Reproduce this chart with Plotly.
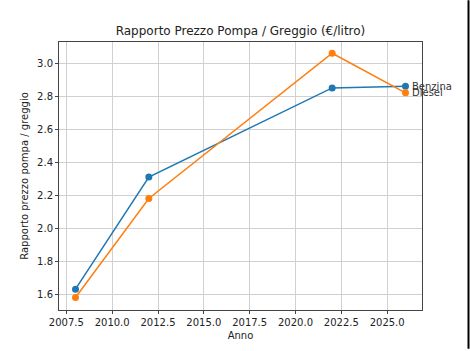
import plotly.graph_objects as go

years = [2008, 2012, 2022, 2026]
benzina = [1.63, 2.31, 2.85, 2.86]
diesel = [1.58, 2.18, 3.06, 2.82]
series_names = ["Benzina", "Diesel"]
colors = ["#1f77b4", "#ff7f0e"]

W, H = 470, 351
L, R, T, B = 59, 48, 42, 39

fig = go.Figure()
for name, vals, c in zip(series_names, [benzina, diesel], colors):
    fig.add_trace(go.Scatter(x=years, y=vals, mode="lines+markers", name=name,
                             line=dict(color=c, width=1.5), marker=dict(color=c, size=7),
                             showlegend=False))
    fig.add_annotation(x=years[-1], y=vals[-1], text=name, showarrow=False,
                       xanchor="left", yanchor="middle", xshift=4,
                       font=dict(size=10, color="#333333"))

fig.update_layout(
    width=W, height=H, margin=dict(l=L, r=R, t=T, b=B),
    paper_bgcolor="white", plot_bgcolor="white",
    font=dict(family="DejaVu Sans", size=10, color="#222222"),
    title=dict(text="Rapporto Prezzo Pompa / Greggio (€/litro)", x=(L + (W - L - R) / 2) / W,
               xanchor="center", y=1 - 31 / H, yanchor="middle", font=dict(size=12)),
)
fig.update_xaxes(range=[2007.1, 2026.9], tickmode="array",
                 tickvals=[2007.5, 2010, 2012.5, 2015, 2017.5, 2020, 2022.5, 2025],
                 ticktext=["2007.5", "2010.0", "2012.5", "2015.0", "2017.5", "2020.0", "2022.5", "2025.0"],
                 showgrid=True, gridcolor="#d0d0d0", gridwidth=1,
                 showline=True, linecolor="#444444", mirror=True, ticks="outside", ticklen=3,
                 tickcolor="#444444", zeroline=False,
                 title=dict(text="Anno", standoff=4, font=dict(size=10)), tickfont=dict(size=10))
fig.update_yaxes(range=[1.504, 3.128], tickmode="array",
                 tickvals=[1.6, 1.8, 2.0, 2.2, 2.4, 2.6, 2.8, 3.0],
                 ticktext=["1.6", "1.8", "2.0", "2.2", "2.4", "2.6", "2.8", "3.0"],
                 showgrid=True, gridcolor="#d0d0d0", gridwidth=1,
                 showline=True, linecolor="#444444", mirror=True, ticks="outside", ticklen=3,
                 tickcolor="#444444", zeroline=False,
                 title=dict(text="Rapporto prezzo pompa / greggio", standoff=6, font=dict(size=10)),
                 tickfont=dict(size=10))

pw = W - L - R
ph = H - T - B
fig.add_shape(type="line", xref="paper", yref="paper",
              x0=(468.5 - L) / pw, x1=(468.5 - L) / pw,
              y0=-B / ph, y1=1 + T / ph, line=dict(color="black", width=2))

fig.write_html("out.html")
